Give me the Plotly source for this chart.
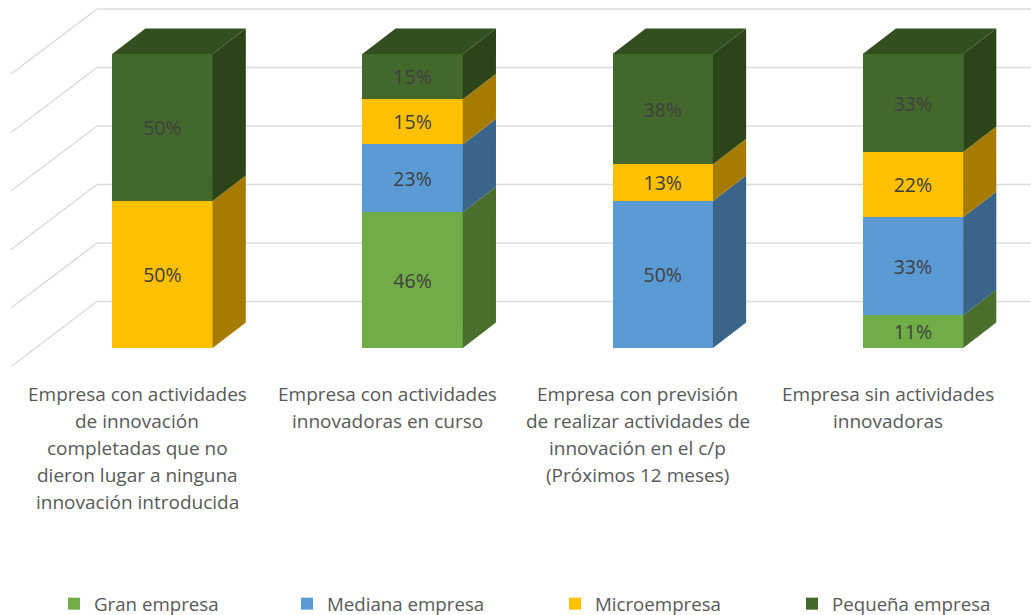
import plotly.graph_objects as go

categories = [
    "Empresa con actividades de innovación completadas",
    "Empresa con actividades innovadoras en curso",
    "Empresa con previsión de realizar actividades",
    "Empresa sin actividades innovadoras",
]
category_lines = [
    ["Empresa con actividades", "de innovación", "completadas que no", "dieron lugar a ninguna", "innovación introducida"],
    ["Empresa con actividades", "innovadoras en curso"],
    ["Empresa con previsión", "de realizar actividades de", "innovación en el c/p", "(Próximos 12 meses)"],
    ["Empresa sin actividades", "innovadoras"],
]
series_names = ["Gran empresa", "Mediana empresa", "Microempresa", "Pequeña empresa"]
gran = [0, 46.15, 0, 11.11]
mediana = [0, 23.08, 50, 33.33]
micro = [50, 15.38, 12.5, 22.22]
pequena = [50, 15.38, 37.5, 33.33]
y_ticks = [0, 20, 40, 60, 80, 100]

front_colors = ["#70AD47", "#5B9BD5", "#FFC000", "#43682B"]
side_colors = ["#4A6E2C", "#3A6489", "#A67C00", "#2B4418"]
top_color = "#334F20"
grid_color = "#DCDCDC"
text_color = "#404040"
label_color = "#595959"
FONT = "Open Sans"
W, H = 1031, 615

# scales (pixels per data unit)
PX_X = 250.17
PX_Y = 2.94
X0_PX = 162.4
Y0_PX = 348.0
BAR_W = 100.4 / PX_X
DX = 33.2 / PX_X
DY = 25.5 / PX_Y
WALL_BACK_X = (97 - X0_PX) / PX_X
WALL_FRONT_X = (11 - X0_PX) / PX_X
WALL_BACK_Y = (Y0_PX - 301.5) / PX_Y
WALL_FRONT_DY = -65 / PX_Y
WALL_SCALE = 292.5 / 294
LABEL_SHIFT = -25 / PX_X

series = [gran, mediana, micro, pequena]
x_pos = list(range(len(categories)))

fig = go.Figure()

shapes = []
xmax = (W - X0_PX) / PX_X
for t in y_ticks:
    yb = WALL_BACK_Y + t * WALL_SCALE
    line = dict(color=grid_color, width=1.5)
    shapes.append(dict(type="line", xref="x", yref="y", layer="below", x0=WALL_BACK_X, x1=xmax, y0=yb, y1=yb, line=line))
    shapes.append(dict(type="line", xref="x", yref="y", layer="below", x0=WALL_FRONT_X, x1=WALL_BACK_X, y0=yb + WALL_FRONT_DY, y1=yb, line=line))

for i, (name, vals) in enumerate(zip(series_names, series)):
    legend_id = "legend" if i == 0 else f"legend{i + 1}"
    fig.add_trace(go.Bar(
        x=x_pos, y=vals, name=name, width=BAR_W,
        marker=dict(color=front_colors[i], line=dict(width=0)),
        text=[f"{int(v + 0.5)}%" if v > 0 else "" for v in vals],
        textposition="inside", insidetextanchor="middle", textangle=0,
        constraintext="none",
        textfont=dict(family=FONT, size=19.5, color=text_color),
        legend=legend_id, hoverinfo="skip",
    ))

for c in x_pos:
    base = 0.0
    xr = c + BAR_W / 2
    xl = c - BAR_W / 2
    for i, vals in enumerate(series):
        v = vals[c]
        if v > 0:
            fig.add_trace(go.Scatter(
                x=[xr, xr + DX, xr + DX, xr, xr],
                y=[base, base + DY, base + v + DY, base + v, base],
                mode="lines", fill="toself", fillcolor=side_colors[i],
                line=dict(width=0), showlegend=False, hoverinfo="skip",
            ))
        base += v
    fig.add_trace(go.Scatter(
        x=[xl, xr, xr + DX, xl + DX, xl],
        y=[base, base, base + DY, base + DY, base],
        mode="lines", fill="toself", fillcolor=top_color,
        line=dict(width=0), showlegend=False, hoverinfo="skip",
    ))

annotations = []
for c, lines in zip(x_pos, category_lines):
    for j, txt in enumerate(lines):
        annotations.append(dict(
            x=c + LABEL_SHIFT, y=1 - (394 + 27 * j) / H, xref="x", yref="paper",
            text=txt, showarrow=False, xanchor="center", yanchor="middle",
            font=dict(family=FONT, size=19, color=label_color),
        ))

legend_x_px = [54, 287, 555, 792]
layout_legends = {}
for i, px in enumerate(legend_x_px):
    key = "legend" if i == 0 else f"legend{i + 1}"
    layout_legends[key] = dict(
        x=px / W, y=1 - 604 / H, xanchor="left", yanchor="middle",
        orientation="h", bgcolor="rgba(0,0,0,0)",
        font=dict(family=FONT, size=18.7, color=label_color),
    )

fig.update_layout(
    width=W, height=H, autosize=False,
    margin=dict(l=0, r=0, t=0, b=0, autoexpand=False),
    paper_bgcolor="white", plot_bgcolor="white",
    barmode="stack",
    showlegend=True,
    xaxis=dict(range=[-X0_PX / PX_X, xmax], visible=False, fixedrange=True),
    yaxis=dict(range=[(Y0_PX - H) / PX_Y, Y0_PX / PX_Y], visible=False, fixedrange=True),
    shapes=shapes, annotations=annotations,
    **layout_legends,
)

fig.write_html("out.html", post_script="document.body.style.margin='0';", config={"displayModeBar": False})
